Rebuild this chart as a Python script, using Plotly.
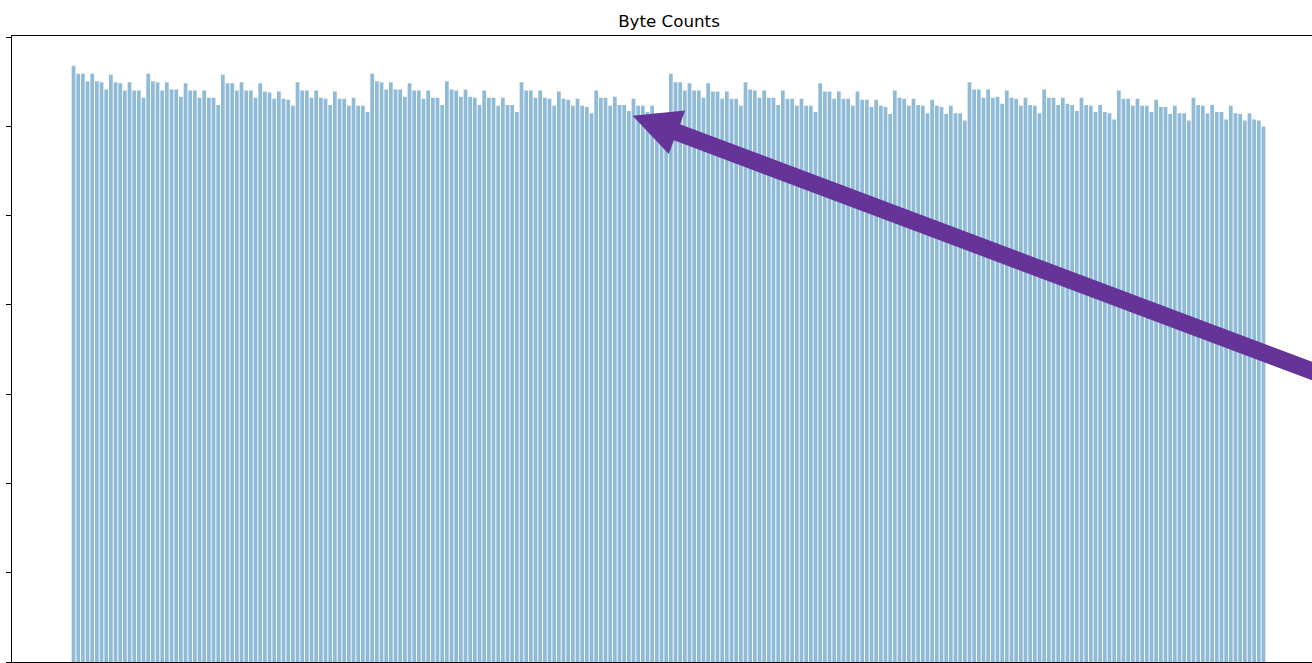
import math
import plotly.graph_objects as go

# Byte value (0-255) on the x axis, number of occurrences on the y axis
byte_values = list(range(256))
counts = [
    6678, 6588, 6588, 6506, 6588, 6506, 6495, 6413, 6577, 6495, 6484, 6402, 6495, 6402, 6402, 6320,
    6588, 6506, 6495, 6402, 6495, 6413, 6413, 6331, 6484, 6402, 6402, 6320, 6402, 6320, 6320, 6238,
    6577, 6484, 6484, 6402, 6495, 6402, 6402, 6320, 6484, 6391, 6380, 6309, 6391, 6309, 6298, 6230,
    6495, 6402, 6402, 6320, 6402, 6320, 6309, 6238, 6391, 6309, 6309, 6230, 6320, 6230, 6230, 6160,
    6588, 6506, 6495, 6413, 6495, 6413, 6413, 6331, 6484, 6402, 6402, 6309, 6402, 6320, 6320, 6238,
    6506, 6413, 6402, 6331, 6413, 6331, 6320, 6238, 6402, 6320, 6320, 6230, 6320, 6238, 6238, 6160,
    6495, 6402, 6402, 6320, 6402, 6320, 6309, 6230, 6391, 6309, 6298, 6230, 6309, 6230, 6216, 6148,
    6402, 6320, 6320, 6230, 6331, 6238, 6238, 6171, 6309, 6230, 6230, 6160, 6230, 6148, 6148, 6066,
    6588, 6495, 6495, 6402, 6484, 6402, 6402, 6320, 6484, 6391, 6391, 6309, 6391, 6309, 6309, 6230,
    6495, 6413, 6402, 6320, 6402, 6320, 6320, 6238, 6402, 6309, 6309, 6230, 6309, 6230, 6230, 6160,
    6484, 6391, 6391, 6309, 6391, 6309, 6309, 6230, 6391, 6298, 6298, 6216, 6298, 6230, 6216, 6137,
    6402, 6320, 6309, 6230, 6309, 6238, 6230, 6148, 6298, 6230, 6216, 6137, 6230, 6148, 6148, 6066,
    6495, 6413, 6413, 6320, 6413, 6320, 6331, 6253, 6402, 6320, 6309, 6230, 6320, 6238, 6230, 6148,
    6413, 6320, 6320, 6238, 6320, 6253, 6238, 6171, 6320, 6238, 6230, 6160, 6238, 6160, 6148, 6078,
    6402, 6309, 6309, 6230, 6309, 6230, 6230, 6160, 6298, 6216, 6216, 6137, 6230, 6148, 6148, 6066,
    6320, 6238, 6230, 6148, 6238, 6160, 6160, 6078, 6230, 6148, 6137, 6066, 6148, 6078, 6066, 5999,
]
y_tick_values = [0, 1000, 2000, 3000, 4000, 5000, 6000, 7000]

# Point the annotation arrow at this (byte, count) location
arrow_tip = (119.8, 6120)

WIDTH, HEIGHT = 1312, 663
MARGIN = dict(l=12, r=0, t=36, b=1)
BAR_WIDTH = 0.8

n = len(byte_values)
span = (n - 1) + BAR_WIDTH
x_lo = -BAR_WIDTH / 2 - 0.05 * span
x_hi = 265.4
y_hi = max(counts) * 1.05

fig = go.Figure(
    go.Bar(
        x=byte_values,
        y=counts,
        width=BAR_WIDTH,
        marker=dict(color="rgba(31,119,180,0.5)", line=dict(width=0)),
        hoverinfo="x+y",
    )
)

# Fancy arrow built in pixel space, then mapped to data units
plot_w = WIDTH - MARGIN["l"] - MARGIN["r"]
plot_h = HEIGHT - MARGIN["t"] - MARGIN["b"]
sx = plot_w / (x_hi - x_lo)
sy = plot_h / y_hi

angle = math.radians(20.6)          # screen angle, pointing down-right from the tip
d = (math.cos(angle), math.sin(angle))
nrm = (-d[1], d[0])
head_len, head_half, shaft_half, tail_len = 47.4, 23.25, 8.6, 950.0


def offset(along, across):
    px = along * d[0] + across * nrm[0]
    py = along * d[1] + across * nrm[1]
    return arrow_tip[0] + px / sx, arrow_tip[1] - py / sy


outline = [
    offset(0, 0),
    offset(head_len, head_half),
    offset(head_len, shaft_half),
    offset(tail_len, shaft_half),
    offset(tail_len, -shaft_half),
    offset(head_len, -shaft_half),
    offset(head_len, -head_half),
]
path = "M " + " L ".join(f"{x:.4f},{y:.2f}" for x, y in outline) + " Z"

fig.add_shape(
    type="path",
    path=path,
    xref="x",
    yref="y",
    fillcolor="#663399",
    line=dict(width=0),
    layer="above",
)

fig.update_layout(
    width=WIDTH,
    height=HEIGHT,
    margin=MARGIN,
    paper_bgcolor="white",
    plot_bgcolor="white",
    showlegend=False,
    bargap=0.2,
    title=dict(
        text="Byte Counts",
        x=669 / WIDTH,
        xref="container",
        xanchor="center",
        y=1 - 21 / HEIGHT,
        yref="container",
        yanchor="middle",
        font=dict(family="DejaVu Sans", size=16.7, color="black"),
    ),
    font=dict(family="DejaVu Sans", color="black"),
)

fig.update_xaxes(
    range=[x_lo, x_hi],
    showgrid=False,
    zeroline=False,
    showline=True,
    mirror=True,
    linecolor="black",
    linewidth=1,
    ticks="",
    showticklabels=False,
)

fig.update_yaxes(
    range=[0, y_hi],
    showgrid=False,
    zeroline=False,
    showline=True,
    mirror=False,
    linecolor="black",
    linewidth=1,
    tickmode="array",
    tickvals=y_tick_values,
    ticks="outside",
    ticklen=5,
    tickwidth=1,
    tickcolor="black",
    showticklabels=False,
)

fig.write_html("out.html")
